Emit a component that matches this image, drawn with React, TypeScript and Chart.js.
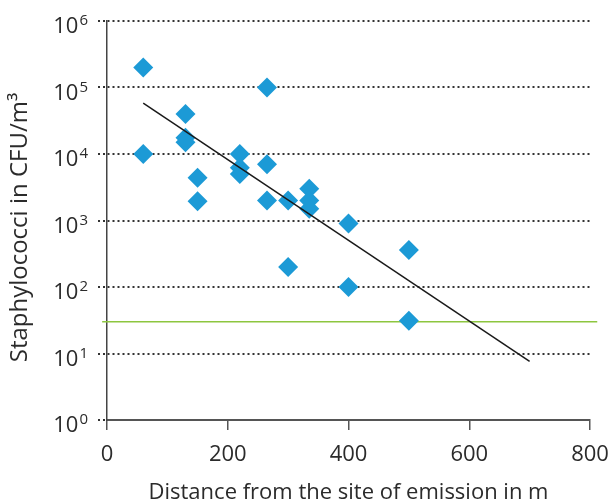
import React, { useEffect, useRef } from "react";
import { Chart, registerables } from "chart.js";

Chart.register(...registerables);

// Measured samples: distance (m) and staphylococci concentration (CFU/m³)
const distance = [60, 60, 130, 130, 130, 150, 150, 220, 220, 220, 265, 265, 265, 300, 300, 335, 335, 335, 400, 400, 500, 500];
const cfu = [200000, 10000, 40000, 17500, 15000, 4400, 1950, 10000, 6200, 5000, 100000, 7000, 2000, 2000, 200, 3000, 2000, 1500, 900, 100, 360, 31];

// Regression line end points
const fitX = [60, 700];
const fitY = [58000, 7.6];

// Reference (background) level
const refX = [-8, 812];
const refY = [30, 30];

const xTicks = [0, 200, 400, 600, 800];
const yTicks = [1, 10, 100, 1000, 10000, 100000, 1000000];
const yTickBase = "10";
const yTickExp = ["0", "1", "2", "3", "4", "5", "6"];

const xTitle = "Distance from the site of emission in m";
const yTitle = "Staphylococci in CFU/m³";

export default function App() {
  const ref = useRef<HTMLCanvasElement>(null);
  useEffect(() => {
    const font = "'Open Sans', sans-serif";
    const txt = "#2b2b2b";

    const supLabels = {
      id: "supLabels",
      afterDraw(chart: any) {
        const s = chart.scales.y;
        const ctx = chart.ctx;
        ctx.save();
        ctx.fillStyle = txt;
        ctx.textBaseline = "alphabetic";
        ctx.textAlign = "left";
        const right = s.right - 19;
        yTicks.forEach((v, i) => {
          const y = s.getPixelForValue(v);
          const exp = yTickExp[i];
          ctx.font = `15px ${font}`;
          const ew = ctx.measureText(exp).width;
          ctx.font = `22px ${font}`;
          const bw = ctx.measureText(yTickBase).width;
          const x0 = right - ew - 1 - bw;
          ctx.fillText(yTickBase, x0, y + 12);
          ctx.font = `15px ${font}`;
          ctx.fillText(exp, x0 + bw + 1, y + 4);
        });
        // y axis title, rotated
        ctx.save();
        ctx.translate(27, (s.top + s.bottom) / 2 + 7);
        ctx.rotate(-Math.PI / 2);
        ctx.font = `24px ${font}`;
        ctx.textAlign = "center";
        ctx.textBaseline = "alphabetic";
        ctx.fillText(yTitle, 0, 0);
        ctx.restore();
        ctx.restore();
      },
    };

    const chart = new Chart(ref.current!, {
      type: "scatter",
      data: {
        datasets: [
          {
            type: "line",
            data: fitX.map((x, i) => ({ x, y: fitY[i] })),
            borderColor: "#1a1a1a",
            borderWidth: 1.5,
            pointRadius: 0,
            fill: false,
            order: 0,
          },
          {
            type: "scatter",
            data: distance.map((x, i) => ({ x, y: cfu[i] })),
            pointStyle: "rectRot",
            pointRadius: 10,
            pointHoverRadius: 10,
            backgroundColor: "#1C9AD6",
            borderWidth: 0,
            order: 1,
          },
          {
            type: "line",
            data: refX.map((x, i) => ({ x, y: refY[i] })),
            borderColor: "#8DC63F",
            borderWidth: 1.5,
            pointRadius: 0,
            fill: false,
            clip: false,
            order: 2,
          },
        ],
      },
      options: {
        animation: false,
        responsive: false,
        maintainAspectRatio: false,
        layout: { padding: { top: 21, right: 23, left: 0, bottom: 0 } },
        plugins: { legend: { display: false }, tooltip: { enabled: false } },
        scales: {
          x: {
            type: "linear",
            min: 0,
            max: 800,
            afterBuildTicks: (s: any) => {
              s.ticks = xTicks.map((v) => ({ value: v }));
            },
            ticks: { color: txt, font: { family: font, size: 22 }, padding: 12, maxRotation: 0 },
            grid: { drawOnChartArea: false, drawTicks: true, tickLength: 10, color: "#555", lineWidth: 1.5 },
            border: { color: "#555", width: 2 },
            title: {
              display: true,
              text: xTitle,
              color: txt,
              font: { family: font, size: 22, lineHeight: 1.0 },
              padding: { top: 0, bottom: 0 },
            },
            afterFit: (s: any) => {
              s.height = 84;
              s.paddingLeft = 0;
              s.paddingRight = 0;
            },
          },
          y: {
            type: "logarithmic",
            min: 1,
            max: 1000000,
            afterBuildTicks: (s: any) => {
              s.ticks = yTicks.map((v) => ({ value: v }));
            },
            ticks: { display: false },
            grid: { color: "#333", lineWidth: 2, tickLength: 9, tickBorderDash: [2, 3] },
            border: { color: "#444", width: 1.5, dash: [2, 3] },
            title: { display: false },
            afterFit: (s: any) => {
              s.width = 107;
              s.paddingTop = 0;
              s.paddingBottom = 0;
            },
          },
        },
      },
      plugins: [supLabels],
    });
    return () => chart.destroy();
  }, []);
  return (
    <div style={{ position: "fixed", left: 0, top: 0, width: 613, height: 504, background: "#fff" }}>
      <canvas ref={ref} width={613} height={504} />
    </div>
  );
}
